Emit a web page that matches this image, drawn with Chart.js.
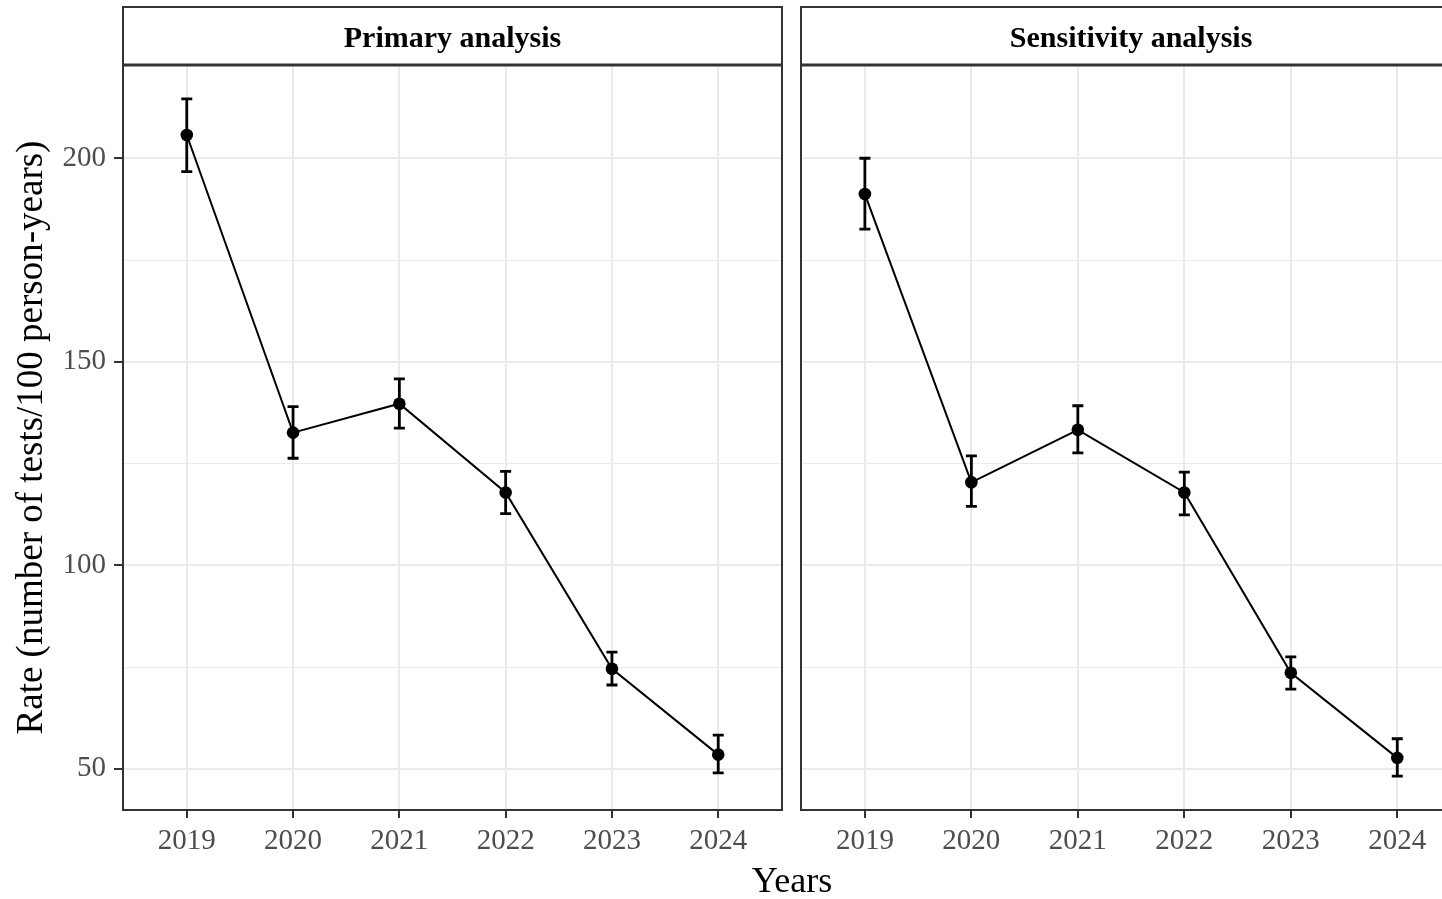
<!DOCTYPE html>
<html><head><meta charset="utf-8">
<script src="https://cdn.jsdelivr.net/npm/chart.js@4"></script>
<style>
html,body{margin:0;padding:0;background:#fff;overflow:hidden;width:1442px;height:899px;}
canvas{position:absolute;top:0;}
#c1{left:0;} #c2{left:789px;}
</style></head><body>
<canvas id="c1" width="1442" height="899"></canvas>
<canvas id="c2" width="653" height="899"></canvas>
<script>
const years = [2019, 2020, 2021, 2022, 2023, 2024];
const panelTitles = ['Primary analysis', 'Sensitivity analysis'];
const primaryRate  = [205.7, 132.6, 139.7, 117.9, 74.6, 53.5];
const primaryLower = [196.7, 126.3, 133.7, 112.7, 70.6, 49.0];
const primaryUpper = [214.6, 139.0, 145.8, 123.1, 78.7, 58.3];
const sensRate  = [191.2, 120.4, 133.3, 117.9, 73.6, 52.7];
const sensLower = [182.6, 114.5, 127.6, 112.4, 69.6, 48.2];
const sensUpper = [200.0, 126.9, 139.2, 122.9, 77.5, 57.4];
const yTitle = 'Rate (number of tests/100 person-years)';
const xTitle = 'Years';

const FONT = '"Liberation Serif", "Times New Roman", serif';
Chart.defaults.font.family = FONT;

const errorBarPlugin = {
  id: 'errorBars',
  beforeDatasetsDraw(chart, args, opts) {
    const {ctx, scales: {x, y}} = chart;
    ctx.save();
    ctx.strokeStyle = '#000';
    ctx.lineWidth = 2.8;
    ctx.lineCap = 'butt';
    opts.xs.forEach((xv, i) => {
      const px = x.getPixelForValue(xv);
      const lo = y.getPixelForValue(opts.lower[i]);
      const hi = y.getPixelForValue(opts.upper[i]);
      ctx.beginPath();
      ctx.moveTo(px, lo); ctx.lineTo(px, hi);
      ctx.moveTo(px - 5.5, lo); ctx.lineTo(px + 5.5, lo);
      ctx.moveTo(px - 5.5, hi); ctx.lineTo(px + 5.5, hi);
      ctx.stroke();
    });
    ctx.restore();
  }
};

const panelPlugin = {
  id: 'panel',
  afterDraw(chart, args, opts) {
    const {ctx, chartArea: a, scales: {x}} = chart;
    const left = a.left;
    const right = x.getPixelForValue(opts.fullMax);
    ctx.save();
    ctx.strokeStyle = '#333333';
    ctx.lineWidth = 2;
    ctx.strokeRect(left, a.top, right - left, a.bottom - a.top);
    ctx.fillStyle = '#fff';
    ctx.fillRect(left, 7, right - left, a.top - 7);
    ctx.strokeRect(left, 7, right - left, a.top - 7);
    ctx.lineWidth = 3;
    ctx.beginPath(); ctx.moveTo(left - 1, a.top); ctx.lineTo(right + 1, a.top); ctx.stroke();
    ctx.fillStyle = '#000';
    ctx.font = 'bold 30px ' + FONT;
    ctx.textAlign = 'center';
    ctx.textBaseline = 'alphabetic';
    ctx.fillText(opts.title, x.getPixelForValue((opts.fullMin + opts.fullMax) / 2), 47);
    if (opts.xTitle) {
      ctx.font = '36px ' + FONT;
      ctx.fillText(opts.xTitle, opts.xTitleX, 892);
    }
    ctx.restore();
  }
};

function makeChart(id, rate, lower, upper, title, isLeft) {
  const xMin = 2018.4, xMaxFull = 2024.6;
  const xMax = isLeft ? xMaxFull : 2024.42;
  return new Chart(document.getElementById(id), {
    type: 'line',
    data: {
      datasets: [{
        data: years.map((yr, i) => ({x: yr, y: rate[i]})),
        borderColor: '#000',
        borderWidth: 2,
        backgroundColor: '#000',
        pointBackgroundColor: '#000',
        pointBorderColor: '#000',
        pointRadius: 6.3,
        pointBorderWidth: 0,
        tension: 0,
        fill: false,
        clip: false
      }]
    },
    options: {
      responsive: false,
      animation: false,
      events: [],
      layout: {autoPadding: false, padding: {top: 65, right: isLeft ? 1442 - 782 : 0, bottom: 0, left: 0}},
      plugins: {
        legend: {display: false},
        tooltip: {enabled: false},
        errorBars: {xs: years, lower: lower, upper: upper},
        panel: {title: title, fullMin: xMin, fullMax: xMaxFull,
                xTitle: isLeft ? xTitle : null, xTitleX: 792}
      },
      scales: {
        x: {
          type: 'linear',
          min: xMin, max: xMax,
          afterFit: s => { s.height = 899 - 810; s.paddingLeft = 0; s.paddingRight = 0; },
          border: {display: false},
          grid: {color: '#EBEBEB', lineWidth: 2, tickLength: 8, tickColor: '#333333', tickWidth: 2, drawTicks: true},
          ticks: {
            stepSize: 1, includeBounds: false, autoSkip: false, maxRotation: 0,
            color: '#4D4D4D', font: {size: 29}, padding: 6,
            callback: v => String(v)
          }
        },
        y: {
          type: 'linear',
          min: 39.9, max: 222.9,
          afterFit: s => { s.width = isLeft ? 123 : 12; s.paddingTop = 0; s.paddingBottom = 0; },
          border: {display: false},
          grid: {
            color: '#EBEBEB',
            lineWidth: c => (c.tick && c.tick.value % 50 === 0) ? 2 : 1,
            drawTicks: isLeft,
            tickLength: 9,
            tickWidth: 2,
            tickColor: c => (c.tick && c.tick.value % 50 === 0) ? '#333333' : 'rgba(0,0,0,0)'
          },
          ticks: {
            display: isLeft,
            stepSize: 25, includeBounds: false,
            color: '#4D4D4D', font: {size: 29}, padding: 8,
            callback: v => (v % 50 === 0 ? String(v) : '')
          },
          title: {
            display: isLeft, text: yTitle, color: '#000',
            font: {size: 37}, padding: {top: 10, bottom: 0}
          }
        }
      }
    },
    plugins: [errorBarPlugin, panelPlugin]
  });
}

makeChart('c1', primaryRate, primaryLower, primaryUpper, panelTitles[0], true);
makeChart('c2', sensRate, sensLower, sensUpper, panelTitles[1], false);
</script>
</body></html>
